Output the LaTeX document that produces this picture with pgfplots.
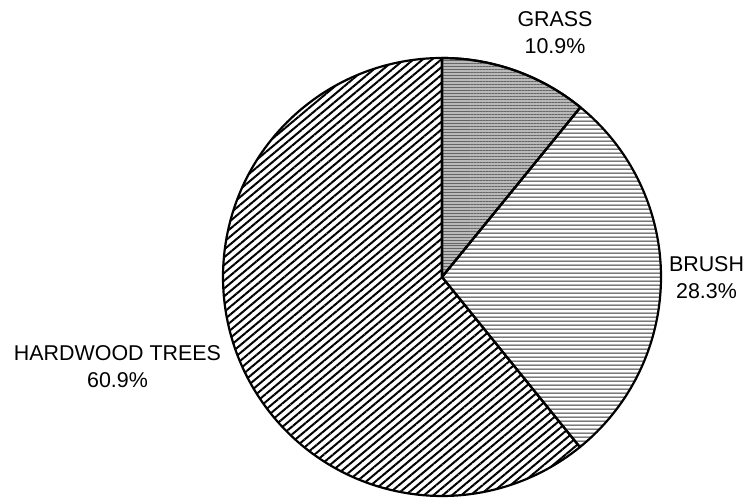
\documentclass[border=0pt]{standalone}
\usepackage{pgfplots}
\pgfplotsset{compat=1.18}
\usepackage{pgfplotstable}
\usetikzlibrary{patterns,patterns.meta}
\usepackage{fontspec}
\setmainfont{Liberation Sans}

\pgfplotstableread{
label value
GRASS 10.9
BRUSH 28.3
HARDWOOD 60.9
}\piedata
\pgfplotstablegetelem{0}{value}\of\piedata \pgfmathsetmacro\va{\pgfplotsretval}%
\pgfplotstablegetelem{1}{value}\of\piedata \pgfmathsetmacro\vb{\pgfplotsretval}%
\pgfplotstablegetelem{2}{value}\of\piedata \pgfmathsetmacro\vc{\pgfplotsretval}%
\pgfmathsetmacro\tot{\va+\vb+\vc}%
\pgfmathsetmacro\aA{90}%
\pgfmathsetmacro\aB{90-360*\va/\tot}%
\pgfmathsetmacro\aC{\aB-360*\vb/\tot}%
\pgfmathsetmacro\aD{-270}%
\def\cx{442}\def\cy{223}\def\rr{219}%

\begin{document}%
\begin{tikzpicture}
\begin{axis}[
  width=749bp, height=500bp, scale only axis,
  xmin=0, xmax=749, ymin=0, ymax=500,
  hide axis, clip=false,
]
\path (rel axis cs:0,0) rectangle (rel axis cs:1,1);
% GRASS
\addplot[draw=black, line width=2.2pt, line join=round, fill=gray!55,
  postaction={pattern={Lines[angle=0,distance=3pt,line width=0.9pt]}, pattern color=black!60},
  domain=\aB:\aA, samples=80, variable=\t]
  ({\cx+\rr*cos(t)}, {\cy+\rr*sin(t)}) -- (axis cs:\cx,\cy) -- cycle;
% BRUSH
\addplot[draw=black, line width=2.2pt, line join=round,
  pattern={Lines[angle=0,distance=4pt,line width=1pt]}, pattern color=black!80,
  domain=\aC:\aB, samples=120, variable=\t]
  ({\cx+\rr*cos(t)}, {\cy+\rr*sin(t)}) -- (axis cs:\cx,\cy) -- cycle;
% HARDWOOD
\addplot[draw=black, line width=2.2pt, line join=round,
  pattern={Lines[angle=40,distance=6pt,line width=2pt]}, pattern color=black,
  domain=\aD:\aC, samples=240, variable=\t]
  ({\cx+\rr*cos(t)}, {\cy+\rr*sin(t)}) -- (axis cs:\cx,\cy) -- cycle;
\node[align=center, font=\fontsize{21.5}{27}\selectfont] at (axis cs:555,467) {GRASS\\10.9\%};
\node[align=center, font=\fontsize{21.5}{27}\selectfont] at (axis cs:706.5,222.5) {BRUSH\\28.3\%};
\node[align=center, font=\fontsize{21.5}{27}\selectfont] at (axis cs:117.5,133) {HARDWOOD TREES\\60.9\%};
\end{axis}
\end{tikzpicture}%
\end{document}
